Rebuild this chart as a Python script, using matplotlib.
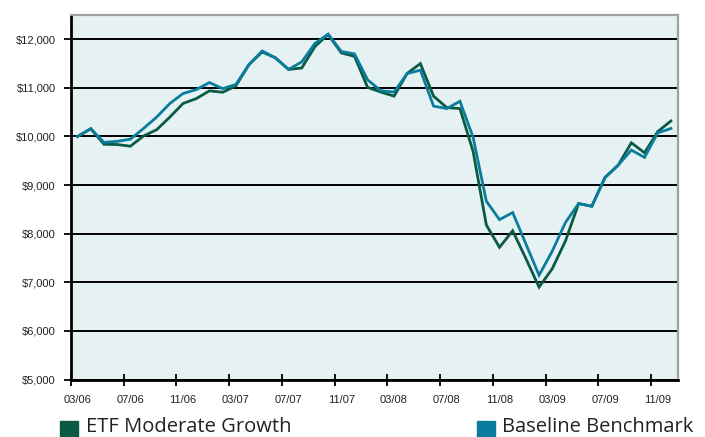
import matplotlib
matplotlib.use("Agg")
import matplotlib.pyplot as plt
from matplotlib.patches import Rectangle
from matplotlib.ticker import FixedLocator, FuncFormatter

# ---- data ----
tick_labels = ["03/06", "07/06", "11/06", "03/07", "07/07", "11/07",
               "03/08", "07/08", "11/08", "03/09", "07/09", "11/09"]
etf = [10000, 10160, 9840, 9835, 9800, 10010, 10140, 10400, 10680, 10780,
       10940, 10910, 11040, 11480, 11740, 11620, 11380, 11410, 11850, 12100,
       11720, 11650, 11010, 10915, 10830, 11300, 11500, 10830, 10595, 10575,
       9690, 8180, 7720, 8060, 7490, 6900, 7280, 7850, 8620, 8565,
       9155, 9410, 9870, 9665, 10100, 10320]
bench = [10000, 10160, 9880, 9900, 9945, 10165, 10400, 10680, 10885, 10965,
         11110, 10985, 11070, 11480, 11760, 11620, 11380, 11535, 11915, 12105,
         11750, 11700, 11165, 10940, 10915, 11295, 11365, 10625, 10575, 10725,
         9980, 8670, 8290, 8435, 7790, 7145, 7640, 8230, 8620, 8565,
         9155, 9410, 9720, 9570, 10075, 10165]
y_ticks = [5000, 6000, 7000, 8000, 9000, 10000, 11000, 12000]
series_names = ["ETF Moderate Growth", "Baseline Benchmark"]

green = "#0b5a44"
blue = "#0a7d9e"

fig = plt.figure(figsize=(7.05, 4.37), dpi=100)
ax = fig.add_axes([71/705, 1-379.5/437, (677.5-71)/705, (379.5-15)/437])
ax.set_facecolor("#e6f1f3")

x = list(range(len(etf)))
ax.plot(x, etf, color=green, lw=2.0, solid_joinstyle="miter", zorder=3)
ax.plot(x, bench, color=blue, lw=2.0, solid_joinstyle="miter", zorder=4)

ax.set_xlim(-0.5, len(etf) - 0.5)
ax.set_ylim(5000, 12500)

# y axis
ax.set_yticks(y_ticks)
ax.yaxis.set_major_formatter(FuncFormatter(lambda v, p: "${:,.0f}".format(v)))
ax.grid(axis="y", color="black", lw=1.4, zorder=1)
ax.set_axisbelow(True)
ax.tick_params(axis="y", direction="out", length=5, width=1.3, pad=6,
               labelsize=8, labelcolor="#222222")

# x axis: labels at category centres, marks at category boundaries
label_pos = [4 * k for k in range(len(tick_labels))]
ax.set_xticks(label_pos)
ax.set_xticklabels(tick_labels)
ax.tick_params(axis="x", which="major", length=0, pad=11, labelsize=8,
               labelcolor="#222222")
ax.xaxis.set_minor_locator(FixedLocator([p - 0.5 for p in label_pos]))
ax.tick_params(axis="x", which="minor", direction="inout", length=8, width=1.3)

for lab in ax.get_xticklabels() + ax.get_yticklabels():
    lab.set_fontfamily("Liberation Sans")

for s in ["left", "bottom"]:
    ax.spines[s].set_color("black")
    ax.spines[s].set_linewidth(2.0)
for s in ["top", "right"]:
    ax.spines[s].set_color("#a0a0a0")
    ax.spines[s].set_linewidth(1.6)

# legend
fig.patches.append(Rectangle((60/705, 0), 18/705, 16/437, transform=fig.transFigure,
                             color=green, clip_on=False))
fig.text(86/705, 5/437, series_names[0], fontsize=14.5, family="Open Sans",
         color="#222222", va="baseline", ha="left")
fig.patches.append(Rectangle((477/705, 0), 18/705, 16/437, transform=fig.transFigure,
                             color=blue, clip_on=False))
fig.text(502/705, 5/437, series_names[1], fontsize=14.5, family="Open Sans",
         color="#222222", va="baseline", ha="left")

fig.savefig("out.png", dpi=100)
